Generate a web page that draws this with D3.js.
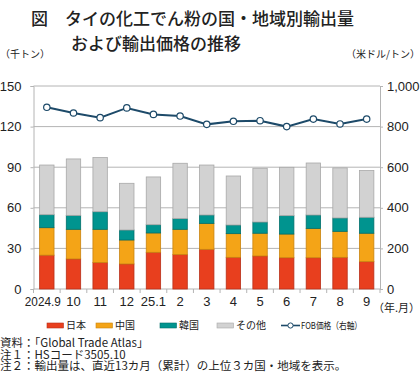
<!DOCTYPE html>
<html><head><meta charset="utf-8">
<script src="https://cdn.jsdelivr.net/npm/d3@7"></script>
<style>
body{margin:0;background:#fff;}
svg{display:block;}
text{font-family:"Liberation Sans","Noto Sans CJK JP",sans-serif;fill:#222;}
.jp{font-family:"Noto Sans CJK JP",sans-serif;}
</style></head><body>
<svg id="c" width="420" height="378"></svg>
<script>
const categories = ["2024.9","10","11","12","25.1","2","3","4","5","6","7","8","9"];
const japan  = [25.0,22.2,19.5,18.5,27.1,25.4,29.3,23.4,24.4,23.1,23.1,23.4,20.2];
const china  = [20.3,21.9,24.6,17.7,14.3,18.7,19.2,17.5,16.8,17.5,21.7,19.2,21.0];
const korea  = [9.6,10.3,13.0,7.4,6.1,7.9,6.2,6.4,8.3,13.6,9.9,9.9,11.8];
const others = [36.7,41.7,40.0,34.5,35.3,40.9,36.9,36.2,39.7,35.7,38.4,37.0,34.5];
const fobPrice = [895,867,844,892,860,852,811,826,829,800,837,813,837];
const leftTicks = [0,30,60,90,120,150];
const rightTicks = [0,200,400,600,800,1000];
const seriesNames = ["日本","中国","韓国","その他"];
const lineName = "FOB価格（右軸）";

const colors = ["#E83F1E","#F4A417","#00948F","#D2D2D2"];
const strokes = ["#B8301A","#C98410","#006F6B","#A8A8A8"];
const lineColor = "#1D4A69";

const svg = d3.select("#c");
const L = 33.5, R = 380, T = 86, B = 289;
const x = d3.scaleBand().domain(categories).range([L,R]).paddingInner(0.43).paddingOuter(0.215);
const yL = d3.scaleLinear().domain([0,150]).range([B,T]);
const yR = d3.scaleLinear().domain([0,1000]).range([B,T]);

// Title
svg.append("text").attr("class","jp").attr("x",31).attr("y",25).attr("font-size",17)
  .attr("font-weight",500).text("図　タイの化工でん粉の国・地域別輸出量");
svg.append("text").attr("class","jp").attr("x",71).attr("y",50).attr("font-size",17)
  .attr("font-weight",500).text("および輸出価格の推移");
svg.append("text").attr("class","jp").attr("x",0).attr("y",58).attr("font-size",10).text("（千トン）");
svg.append("text").attr("class","jp").attr("x",420).attr("y",58).attr("font-size",10)
  .attr("text-anchor","end").text("（米ドル/トン）");

// grid
svg.append("g").selectAll("line").data(leftTicks.filter(d=>d>0)).join("line")
  .attr("x1",L).attr("x2",R).attr("y1",d=>yL(d)).attr("y2",d=>yL(d))
  .attr("stroke","#b4b4b4").attr("stroke-width",1);

// left axis
const gl = svg.append("g").attr("transform",`translate(${L},0)`)
  .call(d3.axisLeft(yL).tickValues(leftTicks).tickSize(3).tickPadding(9));
gl.select(".domain").attr("stroke","#b4b4b4");
gl.selectAll(".tick line").attr("stroke","#b4b4b4");
gl.selectAll("text").attr("font-size",13).attr("fill","#222");

// right axis
const gr = svg.append("g").attr("transform",`translate(${R},0)`)
  .call(d3.axisRight(yR).tickValues(rightTicks).tickSize(3).tickPadding(4).tickFormat(d3.format(",")));
gr.select(".domain").attr("stroke","#b4b4b4");
gr.selectAll(".tick line").attr("stroke","#b4b4b4");
gr.selectAll("text").attr("font-size",13).attr("fill","#222");

// bottom axis
const step = x.step();
const bounds = d3.range(categories.length+1).map(i=>L+i*(R-L)/categories.length);
svg.append("line").attr("x1",L).attr("x2",R).attr("y1",B).attr("y2",B).attr("stroke","#b4b4b4");
svg.append("g").selectAll("line").data(bounds).join("line")
  .attr("x1",d=>d).attr("x2",d=>d).attr("y1",B).attr("y2",B+4).attr("stroke","#b4b4b4");
svg.append("g").selectAll("text").data(categories).join("text")
  .attr("x",(d,i)=>x(d)+x.bandwidth()/2 - (i===0?4:0)).attr("y",306)
  .attr("text-anchor","middle").attr("font-size",13).attr("textLength",(d,i)=>i===0?36:null)
  .attr("lengthAdjust","spacingAndGlyphs").text(d=>d);
svg.append("text").attr("class","jp").attr("x",420).attr("y",312).attr("font-size",11)
  .attr("text-anchor","end").text("（年.月）");

// bars
const rows = categories.map((c,i)=>({cat:c, 日本:japan[i], 中国:china[i], 韓国:korea[i], その他:others[i]}));
const stack = d3.stack().keys(seriesNames)(rows);
svg.append("g").selectAll("g").data(stack).join("g")
  .attr("fill",(d,i)=>colors[i]).attr("stroke",(d,i)=>strokes[i]).attr("stroke-width",0.8)
  .selectAll("rect").data(d=>d).join("rect")
  .attr("x",d=>x(d.data.cat)+0.4).attr("width",x.bandwidth()-0.8)
  .attr("y",d=>yL(d[1])).attr("height",d=>yL(d[0])-yL(d[1]));

// line
const cx = (d,i)=>x(categories[i])+x.bandwidth()/2;
svg.append("path").datum(fobPrice)
  .attr("d",d3.line().x(cx).y(d=>yR(d)))
  .attr("fill","none").attr("stroke",lineColor).attr("stroke-width",2);
svg.append("g").selectAll("circle").data(fobPrice).join("circle")
  .attr("cx",cx).attr("cy",d=>yR(d)).attr("r",3.2)
  .attr("fill","#fff").attr("stroke",lineColor).attr("stroke-width",1.2);

// legend
const lg = svg.append("g");
const legX = [47,96,160,217];
seriesNames.forEach((n,i)=>{
  lg.append("rect").attr("x",legX[i]).attr("y",323).attr("width",16.5).attr("height",5)
    .attr("fill",colors[i]).attr("stroke",strokes[i]).attr("stroke-width",0.6);
  lg.append("text").attr("class","jp").attr("x",legX[i]+19).attr("y",329).attr("font-size",10).text(n);
});
lg.append("line").attr("x1",281).attr("x2",300).attr("y1",325.5).attr("y2",325.5)
  .attr("stroke",lineColor).attr("stroke-width",1.6);
lg.append("circle").attr("cx",290.5).attr("cy",325.5).attr("r",2.6)
  .attr("fill","#fff").attr("stroke",lineColor).attr("stroke-width",1);
lg.append("text").attr("class","jp").attr("x",301).attr("y",329).attr("font-size",9.5)
  .attr("textLength",61).attr("lengthAdjust","spacingAndGlyphs").text(lineName);

// notes
const notes = ["資料：「Global Trade Atlas」","注１：HSコード3505.10","注２：輸出量は、直近13カ月（累計）の上位３カ国・地域を表示。"];
svg.append("g").selectAll("text").data(notes).join("text").attr("class","jp")
  .attr("x",0).attr("y",(d,i)=>347+i*11.7).attr("font-size",11.5).text(d=>d);
</script>
</body></html>
